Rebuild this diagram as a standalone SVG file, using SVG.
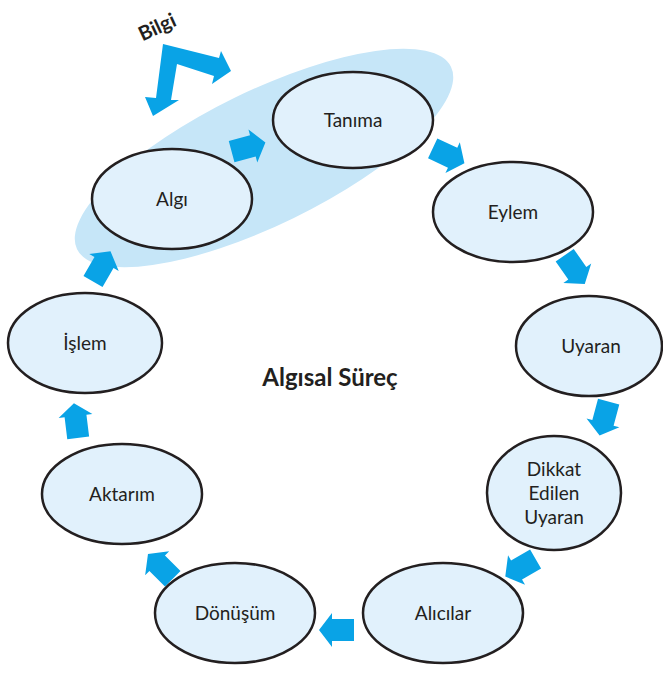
<svg xmlns="http://www.w3.org/2000/svg" width="663" height="673" viewBox="0 0 663 673">
<style>
.node{fill:#e1f1fc;stroke:#231f20;stroke-width:2.5}
.lbl{font-family:Lato,"Open Sans","Liberation Sans",sans-serif;font-size:19px;fill:#231f20;text-anchor:middle}
.arr{fill:#09a3e6}
</style>
<defs>
<path id="ba" d="M-18,-11 L4,-11 L4,-17 L17,0 L4,17 L4,11 L-18,11 Z"/>
</defs>
<rect width="663" height="673" fill="#ffffff"/>
<ellipse cx="264" cy="158" rx="208" ry="67" transform="rotate(-26 264 158)" fill="#c6e6f8"/>
<g id="bilgi">
<polygon class="arr" points="163,44 219,58 221,51 231,71 212,84 214,76 177,64 171,100 179,100 153,116 145,97 156,98"/>
<text x="157" y="34" transform="rotate(-25 157 27)" class="lbl" style="font-weight:bold;font-size:20px">Bilgi</text>
</g>
<g id="connectors">
<use href="#ba" class="arr" transform="translate(249,147) rotate(-15)"/>
<use href="#ba" class="arr" transform="translate(449,156) rotate(25)"/>
<use href="#ba" class="arr" transform="translate(575,270) rotate(55)"/>
<use href="#ba" class="arr" transform="translate(604,419) rotate(105)"/>
<use href="#ba" class="arr" transform="translate(520,568) rotate(150)"/>
<use href="#ba" class="arr" transform="translate(336,630) rotate(180)"/>
<use href="#ba" class="arr" transform="translate(160,566) rotate(225)"/>
<use href="#ba" class="arr" transform="translate(76,420) rotate(-97)"/>
<use href="#ba" class="arr" transform="translate(102,266) rotate(-60)"/>
</g>
<g id="tanima"><ellipse class="node" cx="353" cy="120" rx="80" ry="48"/><text class="lbl" x="353" y="127">Tanıma</text></g>
<g id="algi"><ellipse class="node" cx="172" cy="199" rx="80" ry="50"/><text class="lbl" x="172" y="206">Algı</text></g>
<g id="eylem"><ellipse class="node" cx="513" cy="212" rx="80" ry="50"/><text class="lbl" x="513" y="219">Eylem</text></g>
<g id="uyaran"><ellipse class="node" cx="589" cy="346" rx="73" ry="50"/><text class="lbl" x="591" y="353">Uyaran</text></g>
<g id="dikkat"><ellipse class="node" cx="554" cy="493" rx="67" ry="57"/><text class="lbl" x="554" y="476">Dikkat</text><text class="lbl" x="554" y="500">Edilen</text><text class="lbl" x="554" y="524">Uyaran</text></g>
<g id="alicilar"><ellipse class="node" cx="443" cy="613" rx="80" ry="50"/><text class="lbl" x="443" y="620">Alıcılar</text></g>
<g id="donusum"><ellipse class="node" cx="235" cy="613" rx="80" ry="50"/><text class="lbl" x="235" y="620">Dönüşüm</text></g>
<g id="aktarim"><ellipse class="node" cx="122" cy="494" rx="80" ry="50"/><text class="lbl" x="122" y="501">Aktarım</text></g>
<g id="islem"><ellipse class="node" cx="85" cy="343" rx="77" ry="50"/><text class="lbl" x="85" y="350">İşlem</text></g>
<text class="lbl" x="330" y="386" style="font-weight:bold;font-size:24px">Algısal Süreç</text>
</svg>
